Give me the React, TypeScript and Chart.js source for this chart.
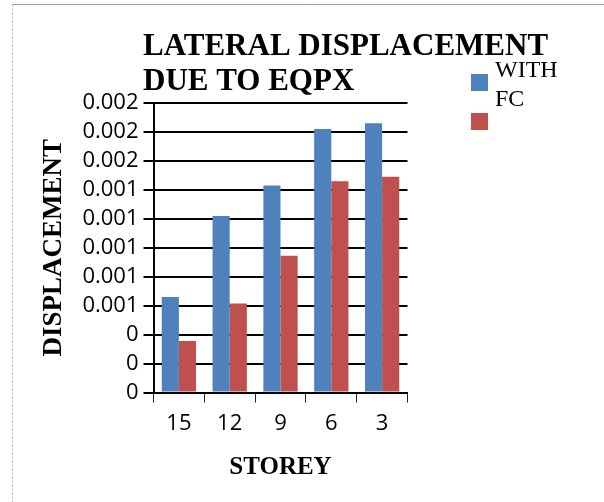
import { useEffect, useRef } from 'react';
import { Chart, registerables } from 'chart.js';

Chart.register(...registerables);

// Storey categories and lateral displacement values for each series
const storeys = ['15', '12', '9', '6', '3'];
const withFc = [0.00066, 0.00122, 0.00143, 0.00182, 0.00186];
const withoutLabel = [0.000355, 0.000615, 0.000945, 0.00146, 0.00149];
const seriesLabels = ['WITH FC', ''];
const seriesColors = ['#4F81BD', '#C0504D'];

// Y tick labels as printed (values rounded to three decimals)
const yTickLabels = ['0', '0', '0', '0.001', '0.001', '0.001', '0.001', '0.001', '0.002', '0.002', '0.002'];

const titleLines = ['LATERAL DISPLACEMENT', 'DUE TO EQPX'];
const xTitle = 'STOREY';
const yTitle = 'DISPLACEMENT';

const SERIF = '"Liberation Serif", "Times New Roman", serif';
const SANS = '"Open Sans", "DejaVu Sans", sans-serif';

// White background plus the thin outer frame
const framePlugin = {
  id: 'frame',
  beforeDraw(chart: any) {
    const { ctx, width, height } = chart;
    ctx.save();
    ctx.fillStyle = '#ffffff';
    ctx.fillRect(0, 0, width, height);
    ctx.strokeStyle = '#a0a0a0';
    ctx.lineWidth = 1;
    ctx.beginPath();
    ctx.moveTo(12.5, 4.5);
    ctx.lineTo(width, 4.5);
    ctx.stroke();
    ctx.setLineDash([2, 2]);
    ctx.strokeStyle = '#b8b8b8';
    ctx.beginPath();
    ctx.moveTo(12.5, 4.5);
    ctx.lineTo(12.5, height);
    ctx.stroke();
    ctx.restore();
  },
};

// Two-line, left-aligned chart title
const titlePlugin = {
  id: 'leftTitle',
  afterDraw(chart: any) {
    const { ctx } = chart;
    ctx.save();
    ctx.fillStyle = '#000';
    ctx.font = `bold 31px ${SERIF}`;
    ctx.textAlign = 'left';
    ctx.textBaseline = 'alphabetic';
    titleLines.forEach((line, i) => ctx.fillText(line, 143, 55 + i * 35));
    ctx.restore();
  },
};

// Legend on the right: square swatches with wrapped labels
const legendPlugin = {
  id: 'sideLegend',
  afterDraw(chart: any) {
    const { ctx } = chart;
    ctx.save();
    ctx.font = `24px ${SERIF}`;
    ctx.textAlign = 'left';
    ctx.textBaseline = 'alphabetic';
    chart.data.datasets.forEach((ds: any, i: number) => {
      const sx = 471;
      const sy = 74 + i * 39;
      const size = 17;
      ctx.fillStyle = ds.backgroundColor;
      ctx.fillRect(sx, sy, size, size);
      const cy = sy + size / 2;
      const lines = String(ds.label || '').split(' ').filter((s) => s.length);
      const lh = 29.5;
      ctx.fillStyle = '#000';
      lines.forEach((ln, j) => {
        const y = cy + (j - (lines.length - 1) / 2) * lh + 9;
        ctx.fillText(ln, 495, y);
      });
    });
    ctx.restore();
  },
};

export default function App() {
  const canvasRef = useRef<HTMLCanvasElement | null>(null);

  useEffect(() => {
    if (!canvasRef.current) return;
    const chart = new Chart(canvasRef.current, {
      type: 'bar',
      data: {
        labels: storeys,
        datasets: [
          {
            label: seriesLabels[0],
            data: withFc,
            backgroundColor: seriesColors[0],
            borderWidth: 0,
            barPercentage: 1,
            categoryPercentage: 0.675,
          },
          {
            label: seriesLabels[1],
            data: withoutLabel,
            backgroundColor: seriesColors[1],
            borderWidth: 0,
            barPercentage: 1,
            categoryPercentage: 0.675,
          },
        ],
      },
      options: {
        responsive: false,
        animation: false,
        devicePixelRatio: 1,
        layout: { padding: { left: 0, top: 103, right: 196.5, bottom: 0 } },
        plugins: {
          legend: { display: false },
          title: { display: false },
          tooltip: { enabled: false },
        },
        scales: {
          x: {
            grid: {
              display: true,
              drawOnChartArea: false,
              drawTicks: true,
              tickLength: 10,
              color: '#222',
              lineWidth: 1,
              offset: true,
            },
            border: { display: true, color: '#000', width: 2 },
            ticks: {
              color: '#000',
              font: { family: SANS, size: 22 },
              padding: 8,
            },
            title: {
              display: true,
              text: xTitle,
              color: '#000',
              font: { family: SERIF, size: 25, weight: 'bold' },
              padding: { top: 0, bottom: 19 },
            },
            afterFit(scale: any) {
              scale.height = 109.5;
            },
          },
          y: {
            min: 0,
            max: 0.002,
            ticks: {
              stepSize: 0.0002,
              autoSkip: false,
              color: '#000',
              font: { family: SANS, size: 22 },
              padding: 5,
              callback: (_v: any, i: number) => yTickLabels[i],
            },
            grid: {
              color: '#000',
              lineWidth: 2,
              drawTicks: true,
              tickLength: 10,
            },
            border: { display: true, color: '#000', width: 2 },
            title: {
              display: true,
              text: yTitle,
              color: '#000',
              font: { family: SERIF, size: 27, weight: 'bold' },
              padding: { top: 38, bottom: 0 },
            },
            afterFit(scale: any) {
              scale.width = 153.5;
            },
          },
        },
      } as any,
      plugins: [framePlugin, titlePlugin, legendPlugin],
    });
    return () => chart.destroy();
  }, []);

  return (
    <div style={{ position: 'absolute', left: 0, top: 0, width: 604, height: 502, background: '#fff' }}>
      <canvas ref={canvasRef} width={604} height={502} />
    </div>
  );
}
